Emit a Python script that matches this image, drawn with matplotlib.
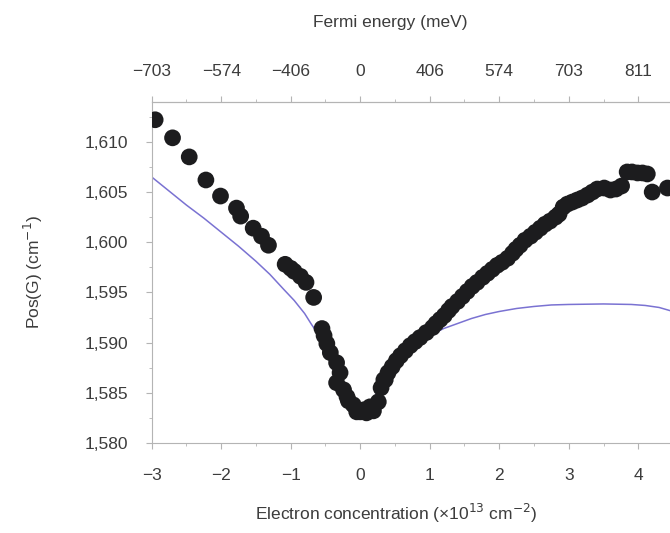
import matplotlib
matplotlib.use("Agg")
import matplotlib.pyplot as plt
from matplotlib.ticker import FuncFormatter, MultipleLocator

plt.rcParams['font.family'] = ['Liberation Sans', 'DejaVu Sans']

# measured G peak position (dots)
n_meas = [-2.95, -2.70, -2.46, -2.22, -2.01, -1.78, -1.72, -1.54, -1.42, -1.32,
          -1.08, -1.00, -0.95, -0.86, -0.78, -0.67, -0.55, -0.52, -0.48, -0.43,
          -0.34, -0.29, -0.34, -0.24, -0.19, -0.17, -0.10, -0.05, 0.00, 0.05,
          0.09, 0.14, 0.19, 0.26, 0.30, 0.34, 0.36, 0.40, 0.46, 0.52,
          0.58, 0.65, 0.72, 0.79, 0.86, 0.95, 1.04, 1.09, 1.15, 1.21,
          1.27, 1.32, 1.40, 1.47, 1.54, 1.61, 1.68, 1.76, 1.83, 1.90,
          1.97, 2.04, 2.12, 2.19, 2.24, 2.30, 2.37, 2.45, 2.52, 2.59,
          2.66, 2.73, 2.81, 2.86, 2.92, 2.98, 3.05, 3.12, 3.19, 3.27,
          3.34, 3.41, 3.51, 3.60, 3.68, 3.76, 3.84, 3.91, 3.99, 4.06,
          4.13, 4.20, 4.42]
pos_meas = [1612.2, 1610.4, 1608.5, 1606.2, 1604.6, 1603.4, 1602.6, 1601.4, 1600.6, 1599.7,
            1597.8, 1597.4, 1597.1, 1596.6, 1596.0, 1594.5, 1591.4, 1590.7, 1589.9, 1589.0,
            1588.0, 1587.0, 1586.0, 1585.3, 1584.6, 1584.2, 1583.8, 1583.1, 1583.1, 1583.3,
            1583.0, 1583.6, 1583.2, 1584.1, 1585.5, 1586.3, 1586.3, 1587.0, 1587.6, 1588.2,
            1588.7, 1589.2, 1589.7, 1590.1, 1590.5, 1591.0, 1591.5, 1591.9, 1592.3, 1592.7,
            1593.2, 1593.6, 1594.1, 1594.6, 1595.1, 1595.6, 1596.0, 1596.5, 1596.9, 1597.3,
            1597.7, 1598.0, 1598.4, 1598.9, 1599.3, 1599.7, 1600.2, 1600.6, 1601.0, 1601.4,
            1601.8, 1602.1, 1602.5, 1602.8, 1603.5, 1603.8, 1604.0, 1604.2, 1604.4, 1604.7,
            1605.0, 1605.3, 1605.4, 1605.2, 1605.3, 1605.6, 1607.0, 1607.0, 1606.9, 1606.9,
            1606.8, 1605.0, 1605.4]

# theory curve
n_theory = [-3.0, -2.75, -2.5, -2.25, -2.0, -1.75, -1.5, -1.3, -1.1, -0.95, -0.8, -0.7,
            -0.6, -0.5, -0.4, -0.3, -0.2, -0.1, 0.0, 0.08, 0.15, 0.25, 0.35, 0.5,
            0.65, 0.8, 1.0, 1.2, 1.4, 1.6, 1.8, 2.0, 2.25, 2.5, 2.75, 3.0,
            3.5, 3.9, 4.1, 4.3, 4.5]
pos_theory = [1606.5, 1605.1, 1603.7, 1602.4, 1601.0, 1599.6, 1598.1, 1596.8, 1595.3, 1594.2,
              1592.9, 1591.8, 1590.8, 1589.6, 1588.2, 1586.9, 1585.5, 1584.3, 1583.4, 1583.3,
              1584.0, 1585.1, 1586.2, 1587.5, 1588.7, 1589.7, 1590.7, 1591.4, 1591.9, 1592.4,
              1592.8, 1593.1, 1593.4, 1593.6, 1593.75, 1593.8, 1593.85, 1593.8, 1593.7, 1593.5,
              1593.1]

n_ticks = [-3, -2, -1, 0, 1, 2, 3, 4]
fermi_labels = ['\u2212703', '\u2212574', '\u2212406', '0', '406', '574', '703', '811']

text_col = '#3c3c3c'
axis_col = '#b4b4b4'

fig = plt.figure(figsize=(6.7, 5.33), dpi=100)
ax = fig.add_axes([0.2264, 0.1689, 0.83, 0.6403])

ax.plot(n_theory, pos_theory, color='#7a72d2', lw=1.1, zorder=2)
ax.scatter(n_meas, pos_meas, s=145, color='#1c1c1e', edgecolors='none', zorder=3)

ax.set_xlim(-3, 5)
ax.set_ylim(1580, 1614)
ax.set_xticks(n_ticks)
ax.set_xticklabels(['\u2212%d' % -t if t < 0 else str(t) for t in n_ticks])
ax.xaxis.set_minor_locator(MultipleLocator(0.5))
ax.yaxis.set_major_locator(MultipleLocator(5))
ax.yaxis.set_minor_locator(MultipleLocator(2.5))
ax.yaxis.set_major_formatter(FuncFormatter(lambda v, p: '{:,.0f}'.format(v)))

for s in ['left', 'bottom', 'top']:
    ax.spines[s].set_color(axis_col)
    ax.spines[s].set_linewidth(0.8)
ax.spines['right'].set_visible(False)

ax.tick_params(which='both', colors=axis_col, labelcolor=text_col, labelsize=12.5)
ax.tick_params(which='major', length=4, width=0.8)
ax.tick_params(which='minor', length=2, width=0.6)
ax.tick_params(axis='x', pad=14)
ax.tick_params(axis='y', pad=13)

top = ax.secondary_xaxis('top')
top.set_xticks(n_ticks)
top.set_xticklabels(fermi_labels)
top.xaxis.set_minor_locator(MultipleLocator(0.5))
top.spines['top'].set_color(axis_col)
top.tick_params(which='both', colors=axis_col, labelcolor=text_col, labelsize=12.5, pad=12)
top.tick_params(which='major', length=4, width=0.8)
top.tick_params(which='minor', length=2, width=0.6)

fig.text(390 / 670, 1 - 22 / 533, 'Fermi energy (meV)', fontsize=12.5, color=text_col,
         ha='center', va='center')

ax.set_xlabel('Electron concentration (\u00d710$^{13}$ cm$^{-2}$)', fontsize=12.5, color=text_col)
ax.xaxis.set_label_coords(0.439, -0.173)
ax.set_ylabel('Pos(G) (cm$^{-1}$)', fontsize=12.5, color=text_col)
ax.yaxis.set_label_coords(-0.192, 0.5)

fig.savefig('out.png', dpi=100)
